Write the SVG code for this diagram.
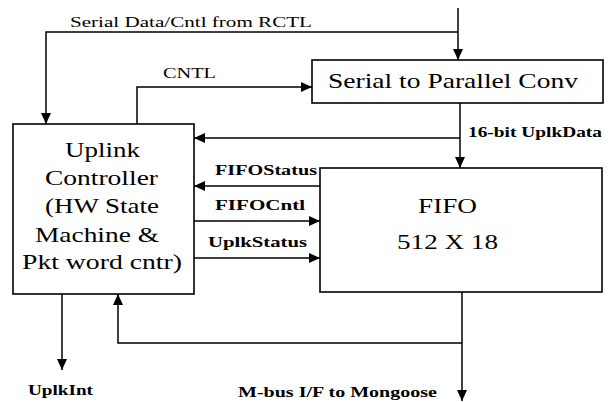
<svg xmlns="http://www.w3.org/2000/svg" width="608" height="402" viewBox="0 0 608 402" font-family="Liberation Serif, Times New Roman, DejaVu Serif, serif">
<style>
.box{fill:#fff;stroke:#000;stroke-width:1.6}
.ln{fill:none;stroke:#000;stroke-width:1.5}
.big{font-size:22px;fill:#000}
.lab{font-size:15px;font-weight:bold;fill:#000}
.lab2{font-size:15px;fill:#000}
</style>
<defs>
<marker id="ah" markerUnits="userSpaceOnUse" markerWidth="12" markerHeight="10" refX="11" refY="5" orient="auto">
<path d="M0,0 L11,5 L0,10 Z" fill="#000"/>
</marker>
</defs>
<rect width="608" height="402" fill="#fff"/>
<g id="connectors">
<path class="ln" d="M458,8 V60" marker-end="url(#ah)"/>
<path class="ln" d="M458,32 H46 V124" marker-end="url(#ah)"/>
<path class="ln" d="M137,124 V87 H312" marker-end="url(#ah)"/>
<path class="ln" d="M460,103 V168" marker-end="url(#ah)"/>
<path class="ln" d="M460,138 H194" marker-end="url(#ah)"/>
<path class="ln" d="M320,186 H194" marker-end="url(#ah)"/>
<path class="ln" d="M194,221 H320" marker-end="url(#ah)"/>
<path class="ln" d="M194,258 H320" marker-end="url(#ah)"/>
<path class="ln" d="M62,294 V370" marker-end="url(#ah)"/>
<path class="ln" d="M462,292 V401" marker-end="url(#ah)"/>
<path class="ln" d="M462,343 H118 V294" marker-end="url(#ah)"/>
<text class="lab2" x="70" y="27" textLength="242" lengthAdjust="spacingAndGlyphs">Serial Data/Cntl from RCTL</text>
<text class="lab2" x="163" y="78" textLength="53" lengthAdjust="spacingAndGlyphs">CNTL</text>
<text class="lab" x="468" y="137" textLength="134" lengthAdjust="spacingAndGlyphs">16-bit UplkData</text>
<text class="lab" x="215" y="175" textLength="102" lengthAdjust="spacingAndGlyphs">FIFOStatus</text>
<text class="lab" x="215" y="210" textLength="90" lengthAdjust="spacingAndGlyphs">FIFOCntl</text>
<text class="lab" x="208" y="247" textLength="99" lengthAdjust="spacingAndGlyphs">UplkStatus</text>
<text class="lab" x="28" y="395" textLength="65" lengthAdjust="spacingAndGlyphs">UplkInt</text>
<text class="lab" x="238" y="397" textLength="199" lengthAdjust="spacingAndGlyphs">M-bus I/F to Mongoose</text>
</g>
<g id="uplink">
<rect class="box" x="13" y="124" width="181" height="170"/>
<text class="big" x="65" y="157" textLength="75" lengthAdjust="spacingAndGlyphs">Uplink</text>
<text class="big" x="45" y="185" textLength="113" lengthAdjust="spacingAndGlyphs">Controller</text>
<text class="big" x="45" y="213" textLength="114" lengthAdjust="spacingAndGlyphs">(HW State</text>
<text class="big" x="35" y="242" textLength="124" lengthAdjust="spacingAndGlyphs">Machine &amp;</text>
<text class="big" x="22" y="269" textLength="160" lengthAdjust="spacingAndGlyphs">Pkt word cntr)</text>
</g>
<g id="s2p">
<rect class="box" x="312" y="60" width="291" height="43"/>
<text class="big" x="328" y="88" textLength="250" lengthAdjust="spacingAndGlyphs">Serial to Parallel Conv</text>
</g>
<g id="fifo">
<rect class="box" x="320" y="168" width="282" height="124"/>
<text class="big" x="418" y="213" textLength="59" lengthAdjust="spacingAndGlyphs">FIFO</text>
<text class="big" x="397" y="249" textLength="101" lengthAdjust="spacingAndGlyphs">512 X 18</text>
</g>
</svg>
